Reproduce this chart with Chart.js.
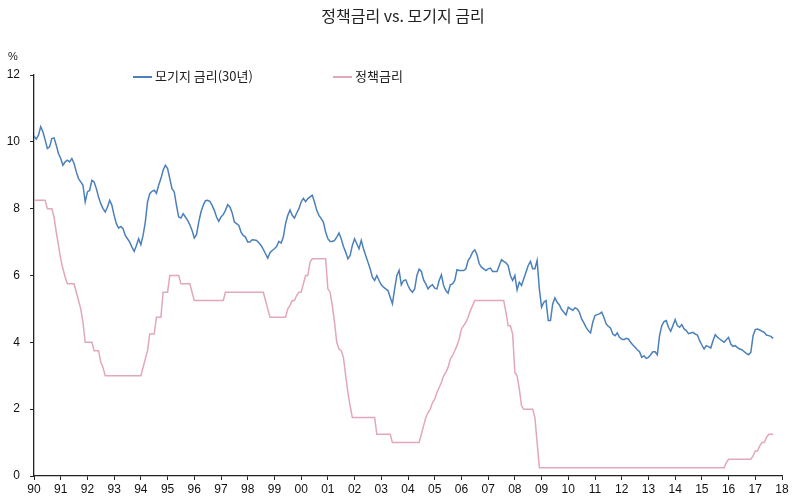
<!DOCTYPE html>
<html><head><meta charset="utf-8">
<script src="https://cdn.jsdelivr.net/npm/chart.js@4/dist/chart.umd.min.js"></script>
<style>html,body{margin:0;padding:0;background:#fff;}#wrap{width:800px;height:503px;}</style>
</head><body><div id="wrap"><canvas id="c" width="800" height="503"></canvas></div>
<script>
const titleText = '정책금리 vs. 모기지 금리';
const unitLabel = '%';
const seriesNames = ['모기지 금리(30년)', '정책금리'];
const startYear = 1990;
const yearTicks = [1990,1991,1992,1993,1994,1995,1996,1997,1998,1999,2000,2001,2002,2003,2004,2005,2006,2007,2008,2009,2010,2011,2012,2013,2014,2015,2016,2017,2018];
const tickLabels = ['90','91','92','93','94','95','96','97','98','99','00','01','02','03','04','05','06','07','08','09','10','11','12','13','14','15','16','17','18'];
const yTicks = [0,2,4,6,8,10,12];

// monthly values, Jan 1990 - Sep 2017
const mortgageRate = [
 10.18,10.08,10.2,10.45,10.3,10.06,9.8,9.85,10.1,10.12,9.9,9.65,
 9.5,9.3,9.4,9.45,9.4,9.5,9.35,9.1,8.9,8.8,8.7,8.2,
 8.5,8.55,8.85,8.8,8.6,8.35,8.15,8.0,7.9,8.05,8.25,8.1,
 7.8,7.55,7.42,7.47,7.4,7.2,7.1,7.0,6.85,6.72,6.9,7.1,
 6.92,7.2,7.6,8.2,8.45,8.52,8.55,8.46,8.7,8.9,9.15,9.3,
 9.2,8.9,8.6,8.5,8.1,7.75,7.72,7.85,7.75,7.65,7.52,7.35,
 7.12,7.22,7.6,7.9,8.1,8.24,8.25,8.22,8.1,7.95,7.75,7.62,
 7.75,7.82,7.95,8.12,8.05,7.88,7.6,7.55,7.5,7.3,7.2,7.15,
 7.0,7.0,7.07,7.06,7.05,6.98,6.9,6.78,6.65,6.52,6.68,6.75,
 6.8,6.87,7.02,6.97,7.15,7.55,7.8,7.96,7.8,7.72,7.87,8.0,
 8.2,8.31,8.21,8.3,8.35,8.4,8.2,7.95,7.8,7.7,7.6,7.3,
 7.1,7.02,7.02,7.05,7.15,7.27,7.1,6.87,6.7,6.5,6.6,6.9,
 7.1,6.95,6.8,7.05,6.8,6.6,6.4,6.2,5.95,5.85,6.0,5.85,
 5.72,5.65,5.6,5.55,5.35,5.15,5.6,6.0,6.15,5.72,5.85,5.87,
 5.7,5.57,5.5,5.6,6.0,6.19,6.12,5.87,5.75,5.6,5.68,5.72,
 5.62,5.6,5.85,6.02,5.7,5.55,5.47,5.72,5.75,5.85,6.17,6.15,
 6.15,6.15,6.2,6.45,6.55,6.7,6.77,6.62,6.35,6.25,6.2,6.15,
 6.2,6.22,6.12,6.12,6.12,6.3,6.47,6.42,6.38,6.3,6.0,5.85,
 6.0,5.57,5.8,5.7,5.9,6.1,6.3,6.42,6.2,6.2,6.45,5.6,
 5.05,5.2,5.25,4.65,4.65,5.15,5.33,5.2,5.12,4.98,4.9,4.82,
 5.05,5.0,4.96,5.03,5.0,4.9,4.7,4.58,4.45,4.35,4.28,4.6,
 4.8,4.83,4.85,4.9,4.75,4.55,4.48,4.42,4.25,4.2,4.28,4.15,
 4.1,4.08,4.12,4.1,4.0,3.92,3.85,3.78,3.72,3.55,3.6,3.52,
 3.55,3.63,3.72,3.72,3.63,4.2,4.5,4.62,4.65,4.45,4.33,4.5,
 4.68,4.5,4.45,4.53,4.4,4.35,4.26,4.28,4.3,4.25,4.22,4.05,
 3.92,3.8,3.9,3.87,3.83,4.05,4.23,4.15,4.1,4.05,4.0,4.08,
 4.15,3.95,3.88,3.9,3.84,3.8,3.78,3.72,3.67,3.63,3.7,4.2,
 4.38,4.4,4.37,4.33,4.3,4.22,4.2,4.18,4.12
];
const policyRate = [
 8.25,8.25,8.25,8.25,8.25,8.25,8.0,8.0,8.0,7.75,7.3,6.9,
 6.5,6.2,5.95,5.75,5.75,5.75,5.75,5.5,5.25,5.0,4.6,4.0,
 4.0,4.0,4.0,3.75,3.75,3.75,3.4,3.25,3.0,3.0,3.0,3.0,
 3.0,3.0,3.0,3.0,3.0,3.0,3.0,3.0,3.0,3.0,3.0,3.0,
 3.0,3.25,3.5,3.75,4.25,4.25,4.25,4.75,4.75,4.75,5.5,5.5,
 5.5,6.0,6.0,6.0,6.0,6.0,5.75,5.75,5.75,5.75,5.75,5.5,
 5.25,5.25,5.25,5.25,5.25,5.25,5.25,5.25,5.25,5.25,5.25,5.25,
 5.25,5.25,5.5,5.5,5.5,5.5,5.5,5.5,5.5,5.5,5.5,5.5,
 5.5,5.5,5.5,5.5,5.5,5.5,5.5,5.5,5.25,5.0,4.75,4.75,
 4.75,4.75,4.75,4.75,4.75,4.75,5.0,5.1,5.25,5.25,5.4,5.5,
 5.5,5.75,6.0,6.0,6.4,6.5,6.5,6.5,6.5,6.5,6.5,6.5,
 5.6,5.5,5.1,4.6,4.0,3.8,3.75,3.55,3.0,2.5,2.1,1.75,
 1.75,1.75,1.75,1.75,1.75,1.75,1.75,1.75,1.75,1.75,1.25,1.25,
 1.25,1.25,1.25,1.25,1.25,1.0,1.0,1.0,1.0,1.0,1.0,1.0,
 1.0,1.0,1.0,1.0,1.0,1.0,1.25,1.5,1.75,1.9,2.0,2.2,
 2.3,2.5,2.65,2.8,3.0,3.1,3.25,3.5,3.6,3.75,3.9,4.1,
 4.4,4.5,4.6,4.75,4.95,5.1,5.25,5.25,5.25,5.25,5.25,5.25,
 5.25,5.25,5.25,5.25,5.25,5.25,5.25,5.25,4.9,4.5,4.5,4.25,
 3.1,3.0,2.6,2.1,2.0,2.0,2.0,2.0,2.0,1.75,1.0,0.25,
 0.25,0.25,0.25,0.25,0.25,0.25,0.25,0.25,0.25,0.25,0.25,0.25,
 0.25,0.25,0.25,0.25,0.25,0.25,0.25,0.25,0.25,0.25,0.25,0.25,
 0.25,0.25,0.25,0.25,0.25,0.25,0.25,0.25,0.25,0.25,0.25,0.25,
 0.25,0.25,0.25,0.25,0.25,0.25,0.25,0.25,0.25,0.25,0.25,0.25,
 0.25,0.25,0.25,0.25,0.25,0.25,0.25,0.25,0.25,0.25,0.25,0.25,
 0.25,0.25,0.25,0.25,0.25,0.25,0.25,0.25,0.25,0.25,0.25,0.25,
 0.25,0.25,0.25,0.25,0.25,0.25,0.25,0.25,0.25,0.25,0.25,0.4,
 0.5,0.5,0.5,0.5,0.5,0.5,0.5,0.5,0.5,0.5,0.5,0.6,
 0.75,0.75,0.9,1.0,1.0,1.15,1.25,1.25,1.25
];

const toPoints = arr => arr.map((v, i) => ({ x: startYear + i / 12, y: v }));
const colors = ['#4b80ba', '#e2a7b8'];
const numFont = '"Liberation Sans", Arial, sans-serif';
const krFont = '"Noto Sans CJK KR", "Noto Sans", sans-serif';

const textPlugin = {
  id: 'textPlugin',
  afterDraw(chart) {
    const ctx = chart.ctx;
    ctx.save();
    ctx.fillStyle = '#222';
    ctx.textBaseline = 'middle';
    ctx.textAlign = 'center';
    ctx.font = '16px ' + krFont;
    ctx.fillText(titleText, 403, 16);
    ctx.font = '11px ' + numFont;
    ctx.fillText(unitLabel, 13, 57);
    const items = [{x: 133, name: seriesNames[0], c: colors[0]}, {x: 333, name: seriesNames[1], c: colors[1]}];
    items.forEach(it => {
      ctx.strokeStyle = it.c; ctx.lineWidth = 2;
      ctx.beginPath(); ctx.moveTo(it.x, 77); ctx.lineTo(it.x + 19, 77); ctx.stroke();
      ctx.textAlign = 'left';
      ctx.fillStyle = '#222';
      ctx.font = '13px ' + krFont;
      ctx.fillText(it.name, it.x + 22, 76);
    });
    ctx.restore();
  }
};

new Chart(document.getElementById('c'), {
  type: 'line',
  data: {
    datasets: [
      { label: seriesNames[0], data: toPoints(mortgageRate), borderColor: colors[0], borderWidth: 1.5, pointRadius: 0, tension: 0, fill: false },
      { label: seriesNames[1], data: toPoints(policyRate), borderColor: colors[1], borderWidth: 1.5, pointRadius: 0, tension: 0, fill: false }
    ]
  },
  options: {
    responsive: false,
    animation: false,
    devicePixelRatio: 1,
    layout: { padding: { top: 75, right: 18, left: 0, bottom: 0 } },
    plugins: { legend: { display: false }, title: { display: false }, tooltip: { enabled: false } },
    scales: {
      x: {
        type: 'linear', min: 1990, max: 2018,
        afterFit: s => { s.height = 27; },
        afterBuildTicks: s => { s.ticks = yearTicks.map(v => ({ value: v })); },
        ticks: { autoSkip: false, maxRotation: 0, padding: 2, color: '#111', font: { family: numFont, size: 12 },
          callback: (v) => { const i = yearTicks.indexOf(v); return i >= 0 ? tickLabels[i] : ''; } },
        grid: { display: true, drawOnChartArea: false, drawTicks: true, tickLength: 4, color: '#222' },
        border: { display: true, color: '#222', width: 1.3 }
      },
      y: {
        min: 0, max: 12,
        afterFit: s => { s.width = 34; },
        afterBuildTicks: s => { s.ticks = yTicks.map(v => ({ value: v })); },
        ticks: { padding: 10, color: '#111', font: { family: numFont, size: 12 } },
        grid: { display: true, drawOnChartArea: false, drawTicks: true, tickLength: 4, color: '#222' },
        border: { display: true, color: '#222', width: 1.3 }
      }
    }
  },
  plugins: [textPlugin]
});
</script></body></html>
